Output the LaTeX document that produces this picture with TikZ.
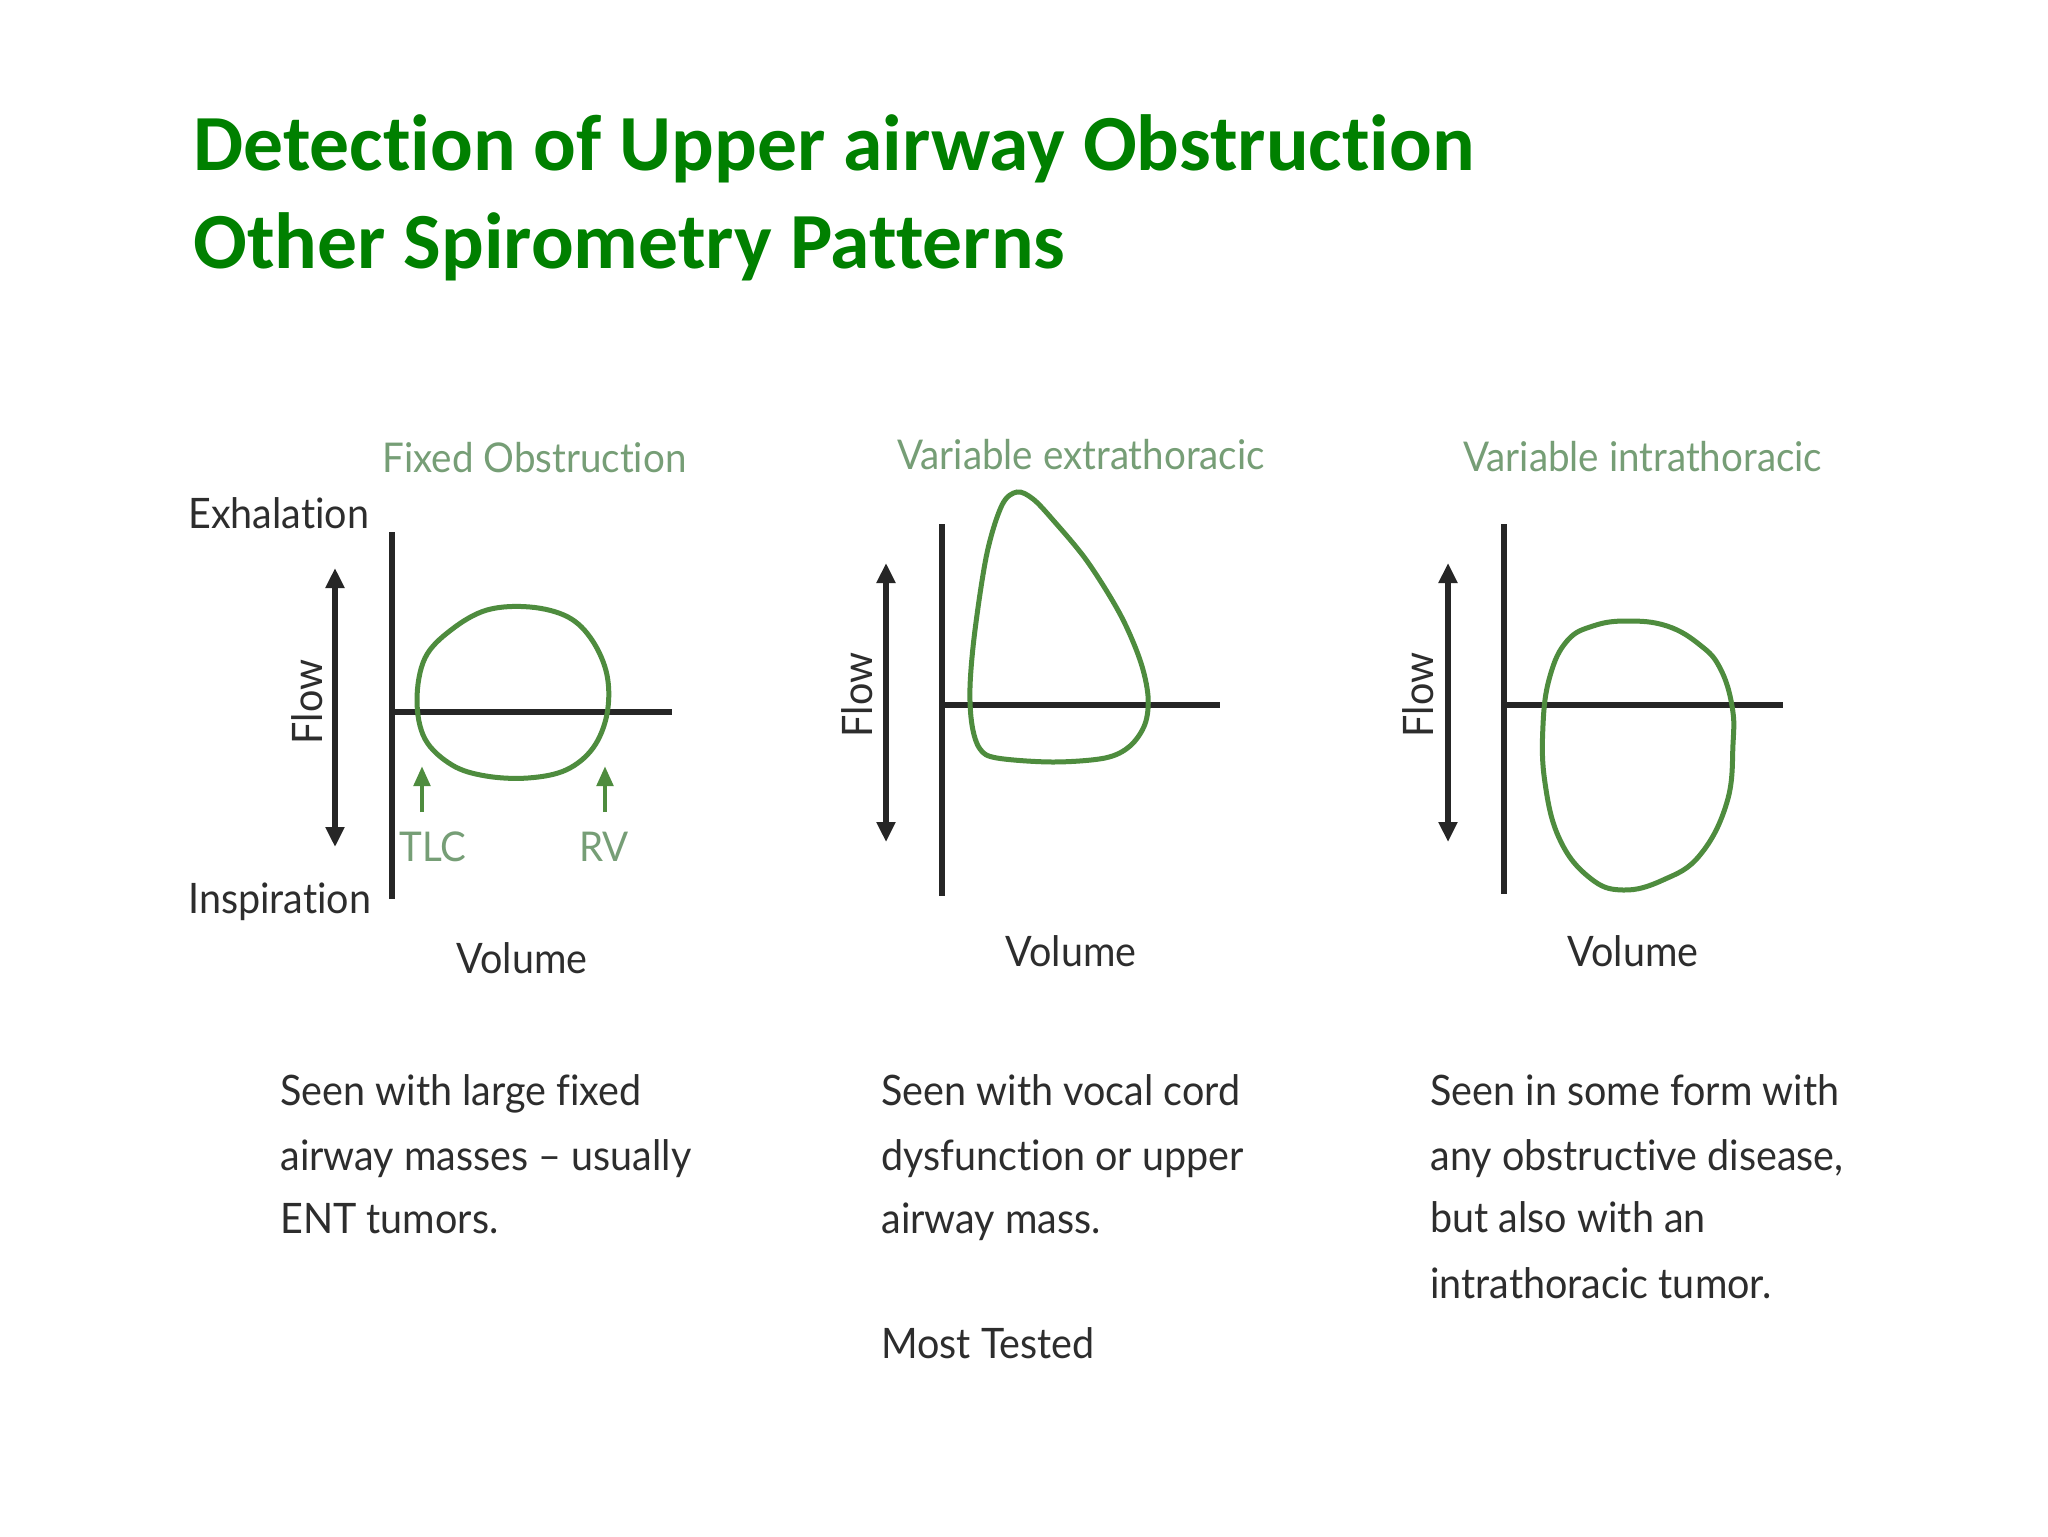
\documentclass[tikz,border=0pt]{standalone}
\usepackage{fontspec}
\setmainfont{Lato}[FakeStretch=0.94, Ligatures=NoCommon]
\newfontfamily\titlefont{Carlito}[Ligatures=NoCommon]
\usetikzlibrary{arrows.meta}
\definecolor{titlegreen}{RGB}{0,128,0}
\definecolor{loopgreen}{RGB}{78,140,62}
\definecolor{capgreen}{RGB}{118,158,118}
\definecolor{axisgray}{RGB}{38,38,38}
\definecolor{textgray}{RGB}{45,45,45}
\tikzset{
  axisline/.style={draw=axisgray, line width=3pt},
  flowarrow/.style={draw=axisgray, line width=2.6pt, {Triangle[width=9pt,length=10pt]}-{Triangle[width=9pt,length=10pt]}},
  loopcurve/.style={draw=loopgreen, line width=2.5pt, smooth cycle, tension=0.7},
  marker/.style={draw=loopgreen, line width=2.4pt, -{Triangle[width=8pt,length=10pt]}},
  lbl/.style={inner sep=0, text=textgray, font=\fontsize{21}{25}\selectfont},
  capt/.style={inner sep=0, anchor=base west, text=capgreen, font=\fontsize{20.5}{25}\selectfont},
  body/.style={inner sep=0, anchor=base west, text=textgray, font=\fontsize{21}{25}\selectfont},
  ttl/.style={inner sep=0, anchor=base west, text=titlegreen, font=\titlefont\bfseries\fontsize{39.8}{50}\selectfont},
}
\begin{document}
\begin{tikzpicture}[x=0.5pt,y=-0.5pt]
\useasboundingbox[fill=white] (0,0) rectangle (2048,1536);
% title
\node[ttl] (t1) at (193,170) {Detection of Upper airway Obstruction};
\node[ttl] (t2) at (193,268) {Other Spirometry Patterns};

% ---------- panel 1 ----------
\node[capt] (c1) at (382,472) {Fixed Obstruction};
\node[lbl, anchor=base west] (exh) at (188,528) {Exhalation};
\node[lbl, anchor=base west] (insp) at (188,913) {Inspiration};
\coordinate (v1t) at (392,532); \coordinate (v1b) at (392,899);
\coordinate (h1l) at (392,712); \coordinate (h1r) at (672,712);
\draw[axisline] (v1t) -- (v1b);
\draw[axisline] (h1l) -- (h1r);
\coordinate (a1t) at (335,568); \coordinate (a1b) at (335,847);
\draw[flowarrow] (a1t) -- (a1b);
\node[lbl, rotate=90] (f1) at (307,702) {Flow};
\draw[loopcurve, tension=0.6] plot coordinates {(417,700) (425,658) (451,630) (487,610) (530,607) (568,617) (592,640) (607,675) (607,714) (593,748) (566,770) (528,778) (486,776) (452,765) (425,739)};
\node[capt] (tlc) at (399,861) {TLC};
\node[capt] (rv) at (579,861) {RV};
\coordinate (m1) at (422,812); \coordinate (m1h) at (422,766);
\coordinate (m2) at (605,812); \coordinate (m2h) at (605,766);
\draw[marker] (m1) -- (m1h);
\draw[marker] (m2) -- (m2h);
\node[lbl, anchor=base] (vol1) at (522,973) {Volume};

% ---------- panel 2 ----------
\node[capt] (c2) at (897,469) {Variable extrathoracic};
\coordinate (v2t) at (942,524); \coordinate (v2b) at (942,896);
\coordinate (h2l) at (942,705); \coordinate (h2r) at (1220,705);
\draw[axisline] (v2t) -- (v2b);
\draw[axisline] (h2l) -- (h2r);
\coordinate (a2t) at (886,563); \coordinate (a2b) at (886,842);
\draw[flowarrow] (a2t) -- (a2b);
\node[lbl, rotate=90] (f2) at (857,695) {Flow};
\draw[loopcurve, tension=0.55] plot coordinates {(1017,492) (1033,499) (1053,520) (1087,561) (1120,614) (1140,660) (1148,696) (1145,724) (1130,746) (1105,758) (1053,762) (997,758) (980,749) (972,725) (970,687) (975,630) (987,553) (1002,505)};
\node[lbl, anchor=base] (vol2) at (1071,966) {Volume};

% ---------- panel 3 ----------
\node[capt] (c3) at (1463,471) {Variable intrathoracic};
\coordinate (v3t) at (1504,524); \coordinate (v3b) at (1504,894);
\coordinate (h3l) at (1504,705); \coordinate (h3r) at (1783,705);
\draw[axisline] (v3t) -- (v3b);
\draw[axisline] (h3l) -- (h3r);
\coordinate (a3t) at (1448,563); \coordinate (a3b) at (1448,842);
\draw[flowarrow] (a3t) -- (a3b);
\node[lbl, rotate=90] (f3) at (1418,695) {Flow};
\draw[loopcurve] plot coordinates {(1627,621) (1667,626) (1700,645) (1720,668) (1732,706) (1733,744) (1727,802) (1700,855) (1663,880) (1623,890) (1590,878) (1560,840) (1545,783) (1543,725) (1550,676) (1567,641) (1593,626)};
\node[lbl, anchor=base] (vol3) at (1633,966) {Volume};

% ---------- descriptions ----------
\node[body] (d11) at (280,1105) {Seen with large fixed};
\node[body] (d12) at (280,1170) {airway masses -- usually};
\node[body] (d13) at (280,1233) {ENT tumors.};
\node[body] (d21) at (881,1105) {Seen with vocal cord};
\node[body] (d22) at (881,1170) {dysfunction or upper};
\node[body] (d23) at (881,1233) {airway mass.};
\node[body] (d24) at (881,1358) {Most Tested};
\node[body] (d31) at (1430,1105) {Seen in some form with};
\node[body] (d32) at (1430,1170) {any obstructive disease,};
\node[body] (d33) at (1430,1232) {but also with an};
\node[body] (d34) at (1430,1298) {intrathoracic tumor.};
\end{tikzpicture}
\end{document}
